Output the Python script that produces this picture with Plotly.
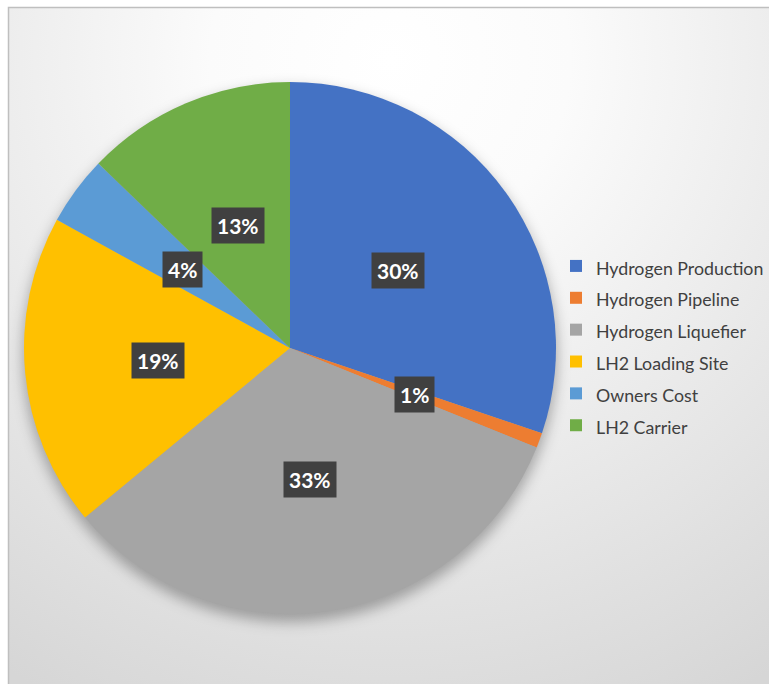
import base64
import math
import plotly.graph_objects as go

# Cost breakdown of the hydrogen supply chain (percent of total)
categories = [
    "Hydrogen Production",
    "Hydrogen Pipeline",
    "Hydrogen Liquefier",
    "LH2 Loading Site",
    "Owners Cost",
    "LH2 Carrier",
]
shares = [30.2, 0.9, 32.9, 19.0, 4.2, 12.8]
colors = ["#4472C4", "#ED7D31", "#A5A5A5", "#FFC000", "#5B9BD5", "#70AD47"]

W, H = 769, 684
# pie placement in pixels (center and radius)
CX, CY, R = 290, 348, 266

# chart-area background: radial grey gradient, border, soft shadow under the pie
svg = f"""<svg xmlns='http://www.w3.org/2000/svg' width='{W}' height='{H}' viewBox='0 0 {W} {H}'>
<defs>
<radialGradient id='bg' gradientUnits='userSpaceOnUse' cx='390' cy='60' r='720'>
<stop offset='0' stop-color='#ffffff'/>
<stop offset='0.25' stop-color='#fbfbfb'/>
<stop offset='1' stop-color='#d6d6d6'/>
</radialGradient>
<filter id='blur' x='-20%' y='-20%' width='140%' height='140%'>
<feGaussianBlur stdDeviation='7'/>
</filter>
</defs>
<rect x='0' y='0' width='{W}' height='{H}' fill='#ffffff'/>
<rect x='8.5' y='7.5' width='{W + 20}' height='{H + 20}' fill='url(#bg)' stroke='#bfbfbf' stroke-width='1.5'/>
<circle cx='{CX}' cy='{CY + 7}' r='{R + 1}' fill='#000000' fill-opacity='0.30' filter='url(#blur)'/>
</svg>"""
bg_uri = "data:image/svg+xml;base64," + base64.b64encode(svg.encode()).decode()

dom_x = [(CX - R) / W, (CX + R) / W]
dom_y = [(H - (CY + R)) / H, (H - (CY - R)) / H]

# legend entries use a larger row pitch than their text size
legend_labels = [f"<span style='font-size:17.8px'>{c}</span>" for c in categories]

fig = go.Figure(
    go.Pie(
        labels=legend_labels,
        values=shares,
        customdata=categories,
        sort=False,
        direction="clockwise",
        rotation=0,
        marker=dict(colors=colors, line=dict(width=0)),
        textinfo="none",
        hovertemplate="%{customdata}: %{percent}<extra></extra>",
        domain=dict(x=dom_x, y=dom_y),
    )
)

# percentage labels in dark boxes at half radius along each slice's mid-angle
total = sum(shares)
cum = 0.0
for name, v in zip(categories, shares):
    mid = (cum + v / 2) / total * 2 * math.pi
    cum += v
    px = CX + 0.5 * R * math.sin(mid)
    py = CY - 0.5 * R * math.cos(mid)
    fig.add_annotation(
        x=px / W,
        y=1 - py / H,
        xref="paper",
        yref="paper",
        text=f"<b>{round(v / total * 100):.0f}%</b>",
        showarrow=False,
        font=dict(family="Lato, Open Sans, sans-serif", size=21, color="#ffffff"),
        bgcolor="#404040",
        borderpad=5,
        xanchor="center",
        yanchor="middle",
    )

fig.update_layout(
    width=W,
    height=H,
    margin=dict(l=0, r=0, t=0, b=0, autoexpand=False),
    paper_bgcolor="rgba(0,0,0,0)",
    plot_bgcolor="rgba(0,0,0,0)",
    showlegend=True,
    legend=dict(
        x=556 / W,
        xanchor="left",
        y=1 - (CY - 2) / H,
        yanchor="middle",
        font=dict(family="Lato, Open Sans, sans-serif", size=22.2, color="#404040"),
        bgcolor="rgba(0,0,0,0)",
        itemwidth=30,
    ),
    images=[
        dict(
            source=bg_uri,
            xref="paper",
            yref="paper",
            x=0,
            y=1,
            sizex=1,
            sizey=1,
            sizing="stretch",
            xanchor="left",
            yanchor="top",
            layer="below",
        )
    ],
)

fig.write_html("out.html")
